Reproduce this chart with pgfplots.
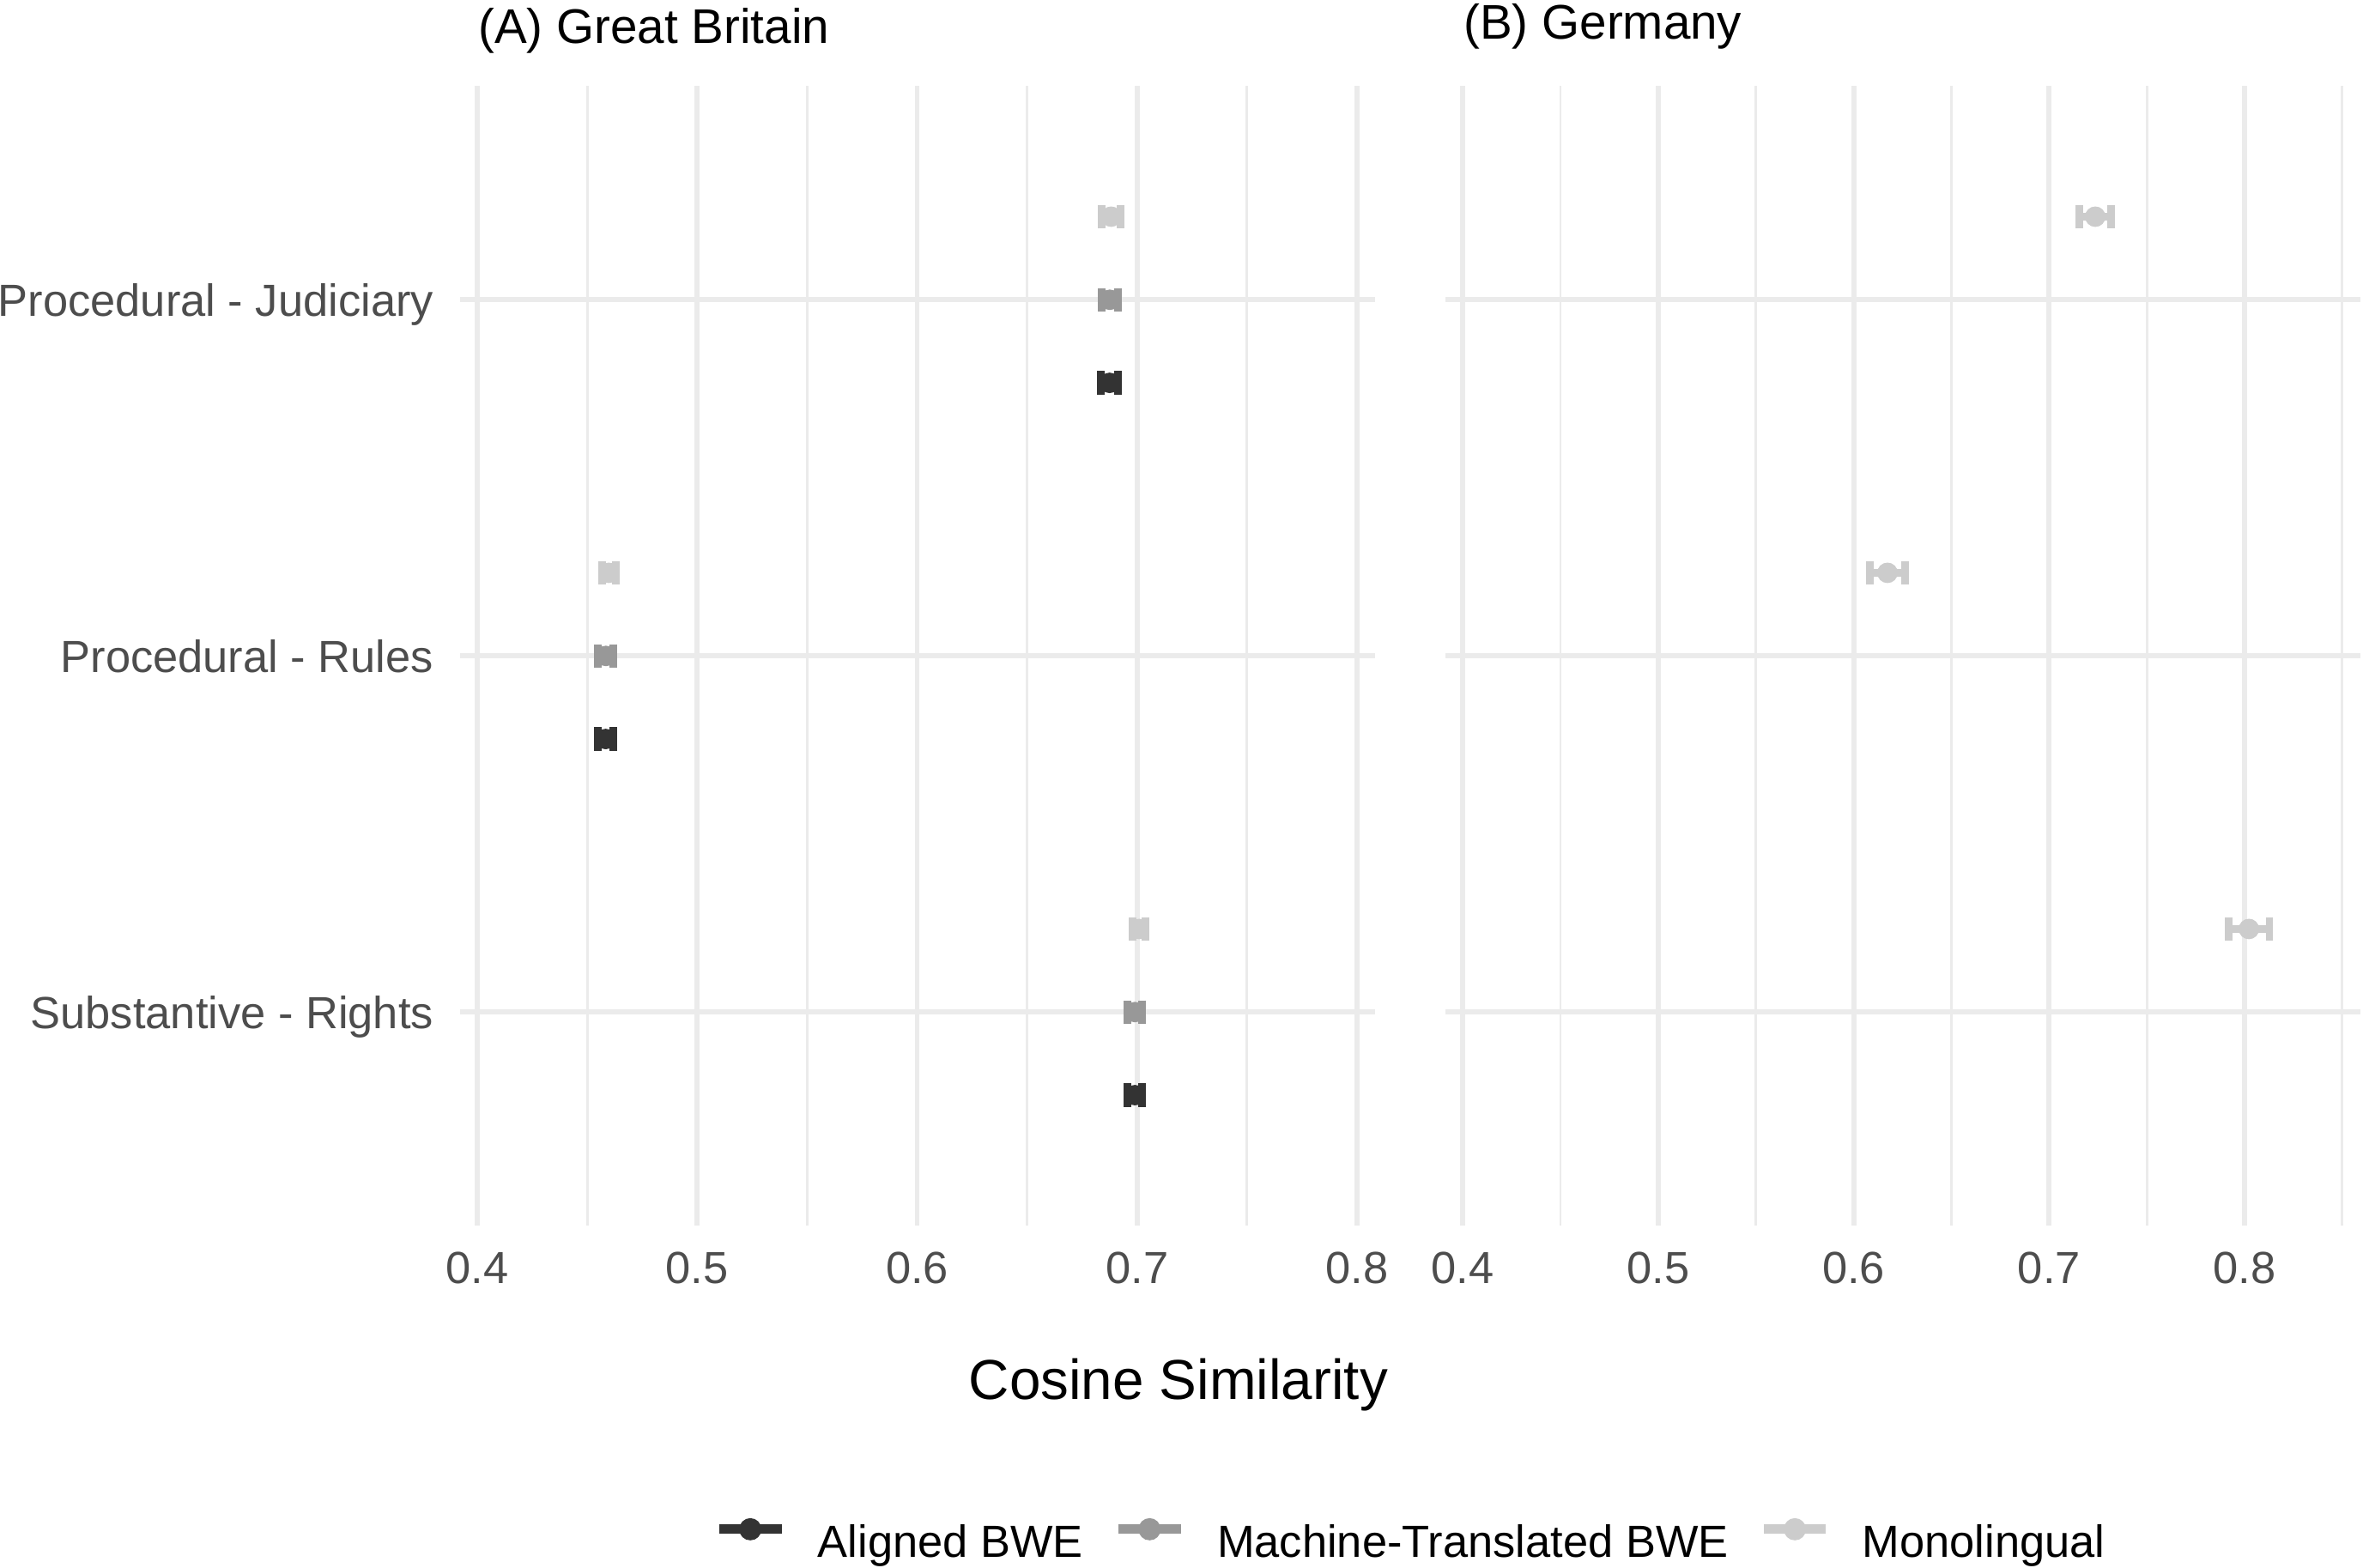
\documentclass[border=0pt]{standalone}
\usepackage{pgfplots}
\pgfplotsset{compat=1.18}
\usepackage{fontspec}
\setmainfont{Liberation Sans}

\definecolor{alignedc}{HTML}{333333}
\definecolor{mtc}{HTML}{989898}
\definecolor{monoc}{HTML}{CCCCCC}
\definecolor{gridc}{HTML}{EBEBEB}
\definecolor{tickc}{HTML}{4D4D4D}

\pgfplotsset{
  panel/.style={
    scale only axis, width=178.86pt, height=222.8pt,
    y dir=reverse, ymin=0.4, ymax=3.6, ytick={1,2,3},
    xtick={0.4,0.5,0.6,0.7,0.8},
    xticklabels={0.4,0.5,0.6,0.7,0.8},
    grid=both,
    major grid style={gridc, line width=1pt},
    minor grid style={gridc, line width=0.5pt},
    axis line style={draw=none}, tick style={draw=none},
    major tick length=0pt, minor tick length=0pt,
    tick label style={font=\fontsize{8.8}{10}\selectfont, text=tickc},
    xticklabel style={inner sep=0pt, anchor=north, yshift=-5pt},
    yticklabel style={inner sep=0pt, anchor=base east, xshift=-5pt, yshift=-3.2pt},
    every axis title shift=0pt,
    title style={anchor=base west, inner sep=0pt,
      font=\fontsize{9.5}{11}\selectfont},
  },
  series/.style={
    only marks, mark=*, mark size=1.9pt, color=#1,
    mark options={fill=#1, draw=#1, line width=0.2pt},
    legend image code/.code={
      \draw[line width=1.8pt, color=#1] (0pt,3pt) -- (12.2pt,3pt);
      \fill[#1] (6.1pt,3pt) circle (1.97pt);
    },
    error bars/.cd, x dir=both, x explicit,
    error mark=|,
    error bar style={line width=1.5pt, color=#1},
    error mark options={line width=1.5pt, mark size=2.3pt, color=#1},
  },
}

\begin{document}
\begin{tikzpicture}
\useasboundingbox (0pt,0pt) rectangle (461.9pt,306.4pt);

% (A) Great Britain
\begin{axis}[panel,
  at={(89.93pt,66.78pt)}, anchor=south west,
  xmin=0.3922, xmax=0.8082,
  minor xtick={0.45,0.55,0.65,0.75},
  yticklabels={Procedural - Judiciary, Procedural - Rules, Substantive - Rights},
  title={(A) Great Britain},
  title style={at={(axis description cs:0.0188,1.0377)}},
  xlabel={Cosine Similarity},
  xlabel style={at={(axis description cs:0.785,-0.152)}, anchor=base, inner sep=0pt,
    font=\fontsize{11}{13}\selectfont},
  legend columns=3,
  legend style={at={(axis description cs:1.038,-0.277)}, anchor=center,
    draw=none, fill=none, inner sep=0pt, font=\fontsize{8.8}{10}\selectfont,
    nodes={inner sep=0pt, text=black},
    /tikz/every odd column/.append style={column sep=6.2pt},
    /tikz/every even column/.append style={column sep=6.0pt}},
]
% Aligned BWE
\addplot+[series=alignedc] table[x=x, y=y, x error=e] {
x       y      e
0.6875  1.2333 0.0039
0.4584  2.2333 0.0035
0.6990  3.2333 0.0033
};
\addlegendentry{Aligned BWE}
% Machine-Translated BWE
\addplot+[series=mtc] table[x=x, y=y, x error=e] {
x       y      e
0.6876  1      0.0037
0.4585  2      0.0035
0.6990  3      0.0033
};
\addlegendentry{Machine-Translated BWE}
% Monolingual
\addplot+[series=monoc] table[x=x, y=y, x error=e] {
x       y      e
0.6882  0.7667 0.0042
0.4598  1.7667 0.0032
0.7009  2.7667 0.0030
};
\addlegendentry{Monolingual}
\end{axis}

% (B) Germany
\begin{axis}[panel,
  at={(282.55pt,66.78pt)}, anchor=south west,
  xmin=0.3912, xmax=0.8593,
  minor xtick={0.45,0.55,0.65,0.75,0.85},
  yticklabels={},
  title={(B) Germany},
  title style={at={(axis description cs:0.0188,1.0414)}},
]
% Monolingual
\addplot+[series=monoc] table[x=x, y=y, x error=e] {
x       y      e
0.7236  0.7667 0.0081
0.6173  1.7667 0.0090
0.8022  2.7667 0.0105
};
\end{axis}
\end{tikzpicture}
\end{document}
